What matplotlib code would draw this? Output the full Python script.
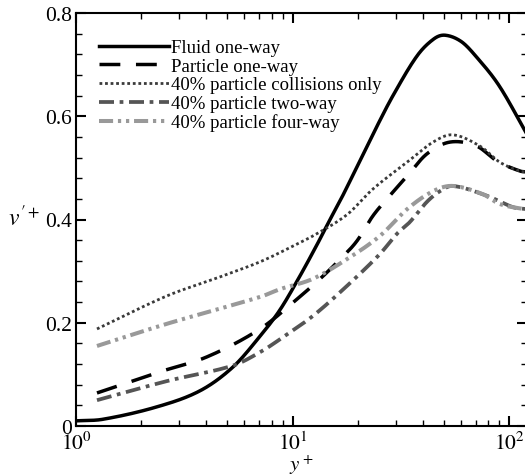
import numpy as np
import matplotlib.pyplot as plt
from matplotlib.ticker import MultipleLocator, FixedLocator, NullFormatter

plt.rcParams['font.family'] = 'Liberation Serif'
plt.rcParams['mathtext.fontset'] = 'stix'

# data
y_fluid = [1.0, 1.33, 2.36, 3.73, 5.3, 7.08, 8.75, 10.8, 13.0, 14.9, 16.9, 20.0, 24.5, 29.1, 37.6, 45.0, 50.6, 60.0, 70.0, 90.0, 121.0]
v_fluid = [0.010, 0.013, 0.037, 0.068, 0.114, 0.174, 0.225, 0.290, 0.352, 0.400, 0.443, 0.505, 0.580, 0.640, 0.717, 0.750, 0.757, 0.745, 0.717, 0.659, 0.565]

y_part = [1.25, 2.44, 4.03, 7.08, 10.5, 13.4, 16.6, 19.8, 23.5, 28.1, 33.8, 41.7, 53.4, 71.0, 88.0, 112.0, 121.0]
v_part = [0.064, 0.105, 0.134, 0.188, 0.246, 0.285, 0.323, 0.358, 0.407, 0.446, 0.484, 0.527, 0.550, 0.542, 0.513, 0.494, 0.492]

y_coll = [1.25, 2.63, 4.5, 7.08, 10.0, 12.4, 17.8, 23.5, 33.8, 44.6, 55.0, 73.5, 90.6, 112.0, 121.0]
v_coll = [0.188, 0.252, 0.287, 0.318, 0.348, 0.368, 0.409, 0.459, 0.511, 0.550, 0.564, 0.542, 0.511, 0.494, 0.492]

y_two = [1.25, 2.63, 5.3, 7.08, 8.75, 12.4, 17.8, 25.3, 30.3, 34.8, 41.7, 48.0, 55.0, 79.0, 104.0, 121.0]
v_two = [0.050, 0.087, 0.117, 0.143, 0.168, 0.213, 0.271, 0.333, 0.372, 0.395, 0.434, 0.455, 0.465, 0.446, 0.424, 0.420]

y_four = [1.25, 2.63, 7.08, 8.75, 12.4, 17.8, 25.3, 33.8, 44.6, 55.0, 75.7, 90.6, 118.0, 121.0]
v_four = [0.155, 0.198, 0.250, 0.265, 0.285, 0.323, 0.368, 0.420, 0.455, 0.465, 0.449, 0.430, 0.420, 0.420]

labels = ['Fluid one-way', 'Particle one-way', '40% particle collisions only',
          '40% particle two-way', '40% particle four-way']

fig = plt.figure(figsize=(5.25, 4.77), dpi=100)
ax = fig.add_axes([76/525, 1-427/477, (527-76)/525, (427-14)/477])

def smooth(x, y, n=30):
    # catmull-rom through the points, in log x
    lx = np.log10(np.asarray(x, float))
    y = np.asarray(y, float)
    m = np.zeros_like(y)
    m[1:-1] = (y[2:] - y[:-2]) / (lx[2:] - lx[:-2])
    m[0] = (y[1] - y[0]) / (lx[1] - lx[0])
    m[-1] = (y[-1] - y[-2]) / (lx[-1] - lx[-2])
    xs, ys = [], []
    for i in range(len(lx) - 1):
        h = lx[i+1] - lx[i]
        t = np.linspace(0, 1, n, endpoint=False)
        h00 = 2*t**3 - 3*t**2 + 1
        h10 = t**3 - 2*t**2 + t
        h01 = -2*t**3 + 3*t**2
        h11 = t**3 - t**2
        xs.append(lx[i] + t*h)
        ys.append(h00*y[i] + h10*h*m[i] + h01*y[i+1] + h11*h*m[i+1])
    xs.append([lx[-1]])
    ys.append([y[-1]])
    return 10**np.concatenate(xs), np.concatenate(ys)

x, y = smooth(y_fluid, v_fluid)
ax.plot(x, y, color='black', lw=2.5, ls='-', label=labels[0])
x, y = smooth(y_part, v_part)
ax.plot(x, y, color='black', lw=2.5, ls=(0, (6, 4.5)), label=labels[1])
x, y = smooth(y_coll, v_coll)
ax.plot(x, y, color='#3a3a3a', lw=2.0, ls=(0, (1, 1)), label=labels[2])
x, y = smooth(y_two, v_two)
ax.plot(x, y, color='#555555', lw=2.7, ls=(0, (4, 1.5, 1, 1.5)), label=labels[3])
x, y = smooth(y_four, v_four)
ax.plot(x, y, color='#999999', lw=2.9, ls=(0, (3.5, 1.2, 0.8, 1.2, 0.8, 1.2)), label=labels[4])

ax.set_xscale('log')
ax.set_xlim(1, 121)
ax.set_ylim(0, 0.8)
ax.set_yticks([0, 0.2, 0.4, 0.6, 0.8])
ax.set_yticklabels(['0', '0.2', '0.4', '0.6', '0.8'])
ax.yaxis.set_minor_locator(MultipleLocator(0.04))
ax.xaxis.set_major_locator(FixedLocator([1, 10, 100]))
ax.set_xticklabels(['$10^0$', '$10^1$', '$10^2$'])
minors = [m*d for d in (1, 10) for m in range(2, 10)]
ax.xaxis.set_minor_locator(FixedLocator(minors))
ax.xaxis.set_minor_formatter(NullFormatter())

ax.tick_params(which='both', direction='in', top=True, right=True, labelsize=15.5, width=1.0)
ax.tick_params(which='major', length=7, width=1.5)
ax.tick_params(which='minor', length=4)
ax.tick_params(axis='x', pad=4)
ax.tick_params(axis='y', pad=3)
for s in ax.spines.values():
    s.set_linewidth(1.5)

ax.set_xlabel('$y^+$', fontsize=15, labelpad=-1)
ax.set_ylabel(r"$v^{\prime +}$", fontsize=17, rotation=0)
ax.yaxis.set_label_coords(-0.115, 0.475)

ax.legend(loc='upper left', bbox_to_anchor=(0.035, 0.955), frameon=False,
          fontsize=13.5, handlelength=3.7, handletextpad=0.1, labelspacing=0.08,
          borderaxespad=0)

fig.savefig('out.png', dpi=100)
